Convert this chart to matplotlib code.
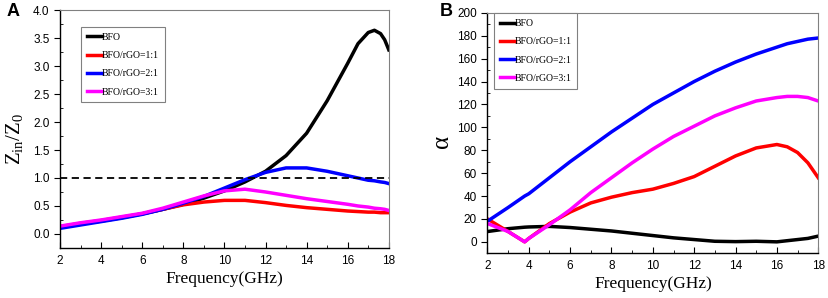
import matplotlib
matplotlib.use('Agg')
import matplotlib.pyplot as plt
from matplotlib.ticker import MultipleLocator

plt.rcParams['font.family'] = 'Liberation Sans'

labels = ['BFO', 'BFO/rGO=1:1', 'BFO/rGO=2:1', 'BFO/rGO=3:1']
colors = ['black', 'red', 'blue', 'magenta']

# panel A: Zin/Z0
freq_a = [2, 3, 4, 5, 6, 7, 8, 9, 10, 11, 12, 13, 14, 15, 16, 16.5, 17, 17.3, 17.6, 17.8, 18]
zin_bfo = [0.12, 0.18, 0.23, 0.29, 0.36, 0.44, 0.53, 0.64, 0.77, 0.93, 1.12, 1.40, 1.80, 2.38, 3.05, 3.40, 3.60, 3.64, 3.58, 3.47, 3.29]
zin_11 = [0.13, 0.19, 0.24, 0.30, 0.36, 0.44, 0.52, 0.57, 0.60, 0.60, 0.56, 0.51, 0.47, 0.44, 0.41, 0.40, 0.39, 0.39, 0.38, 0.38, 0.38]
zin_21 = [0.10, 0.16, 0.22, 0.28, 0.35, 0.44, 0.55, 0.67, 0.82, 0.97, 1.10, 1.18, 1.18, 1.12, 1.04, 1.00, 0.96, 0.95, 0.93, 0.92, 0.90]
zin_31 = [0.14, 0.20, 0.25, 0.31, 0.37, 0.46, 0.57, 0.68, 0.77, 0.80, 0.75, 0.69, 0.63, 0.58, 0.53, 0.50, 0.48, 0.46, 0.45, 0.44, 0.42]

# panel B: attenuation constant
freq_b = [2, 3, 3.8, 4, 5, 6, 7, 8, 9, 10, 11, 12, 13, 14, 15, 16, 16.5, 17, 17.5, 18]
a_bfo = [9, 11.5, 12.8, 13, 13.5, 12.5, 11, 9.5, 7.5, 5.5, 3.5, 2, 0.5, 0.2, 0.5, 0, 1, 2, 3, 5]
a_11 = [20, 9, 0, 3, 16, 26, 34, 39, 43, 46, 51, 57, 66, 75, 82, 85, 83, 78, 69, 56]
a_21 = [18, 30, 40, 42, 56, 70, 83, 96, 108, 120, 130, 140, 149, 157, 164, 170, 173, 175, 177, 178]
a_31 = [16, 9, 0, 3, 15, 28, 43, 56, 69, 81, 92, 101, 110, 117, 123, 126, 127, 127, 126, 123]

fig = plt.figure(figsize=(8.29, 2.98), dpi=100)
ax1 = fig.add_axes([0.0724, 0.168, 0.3966, 0.798])
ax2 = fig.add_axes([0.588, 0.150, 0.399, 0.807])

serif = 'Liberation Serif'


def style(ax):
    for s in ['top', 'right']:
        ax.spines[s].set_color('gray')
        ax.spines[s].set_linewidth(0.8)
    for s in ['left', 'bottom']:
        ax.spines[s].set_linewidth(1.0)
    ax.xaxis.set_major_locator(MultipleLocator(2))
    ax.xaxis.set_minor_locator(MultipleLocator(1))
    ax.tick_params(axis='x', which='both', direction='in', labelsize=8.5, pad=5)
    ax.tick_params(axis='x', which='major', length=4)
    ax.tick_params(axis='x', which='minor', length=2)
    ax.tick_params(axis='y', which='major', direction='out', length=4, labelsize=8.5)
    ax.tick_params(axis='y', which='minor', direction='in', length=2)
    ax.set_xlim(2, 18)
    ax.set_xlabel('Frequency(GHz)', family=serif, fontsize=12.5, labelpad=3)


def legend(ax, anchor):
    leg = ax.legend(loc='upper left', bbox_to_anchor=anchor, prop={'family': serif, 'size': 7},
                    handlelength=1.55, handletextpad=0.0, labelspacing=0.95, fancybox=False,
                    edgecolor='gray', borderpad=0.6, borderaxespad=0, framealpha=1)
    leg.get_frame().set_linewidth(0.8)
    return leg


for ys, c, lb in zip([zin_bfo, zin_11, zin_21, zin_31], colors, labels):
    ax1.plot(freq_a, ys, color=c, lw=2.5, label=lb)
ax1.axhline(1.0, color='black', lw=1.3, ls=(0, (4, 2.5)))
style(ax1)
ax1.set_ylim(-0.25, 4.0)
ax1.yaxis.set_major_locator(MultipleLocator(0.5))
ax1.yaxis.set_minor_locator(MultipleLocator(0.25))
ax1.yaxis.set_major_formatter(plt.FormatStrFormatter('%.1f'))
ax1.set_ylabel(r'$\mathregular{Z_{in}/Z_0}$', family=serif, fontsize=15)
ax1.yaxis.set_label_coords(-0.108, 0.46)
legend(ax1, (0.064, 0.929))
fig.text(0.008, 0.99, 'A', fontsize=13, fontweight='bold', va='top')

for ys, c, lb in zip([a_bfo, a_11, a_21, a_31], colors, labels):
    ax2.plot(freq_b, ys, color=c, lw=2.5, label=lb)
style(ax2)
ax2.set_ylim(-10, 200)
ax2.yaxis.set_major_locator(MultipleLocator(20))
ax2.yaxis.set_minor_locator(MultipleLocator(10))
ax2.set_ylabel(r'$\mathregular{\alpha}$', family=serif, fontsize=18)
ax2.yaxis.set_label_coords(-0.10, 0.46)
legend(ax2, (0.019, 0.998))
fig.text(0.530, 0.99, 'B', fontsize=13, fontweight='bold', va='top')

fig.savefig('out.png', dpi=100)
